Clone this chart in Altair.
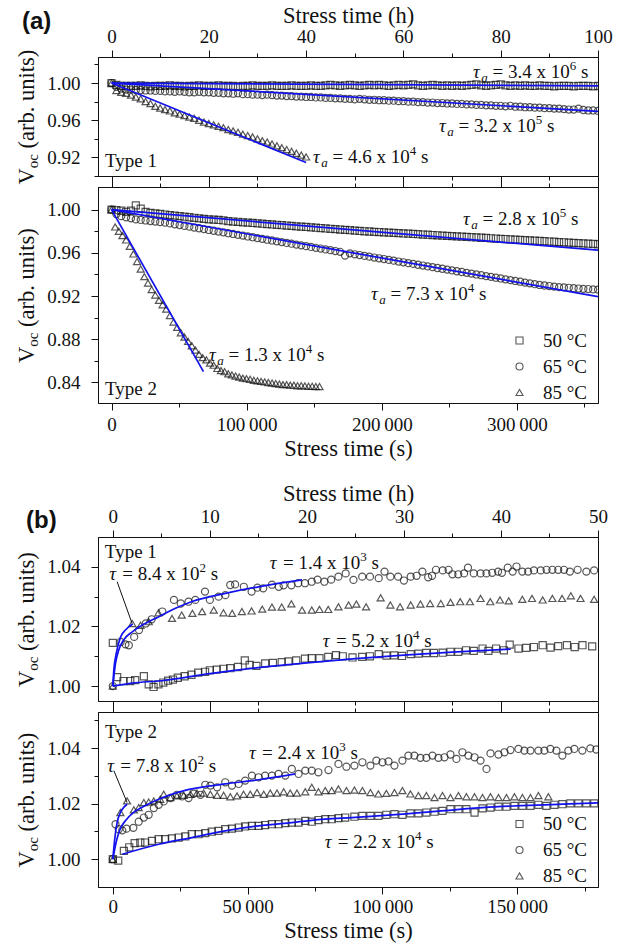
import altair as alt
import pandas as pd

SERIF = "Liberation Serif"
SANS = "Liberation Sans"
INK = "#111111"
BLUE = "#1212ee"
TEMPS = ["50 °C", "65 °C", "85 °C"]
SHAPES = ["square", "circle", "triangle-up"]
H = 3600.0  # seconds per hour

# ---------------- (a) Type 1 / Type 2 : hourly readings ----------------
A_HOURS = [0, 1, 2, 3, 4, 5, 6, 7, 8, 9, 10, 11, 12, 13, 14, 15, 16, 17, 18, 19,
           20, 21, 22, 23, 24, 25, 26, 27, 28, 29, 30, 31, 32, 33, 34, 35, 36, 37, 38, 39,
           40, 41, 42, 43, 44, 45, 46, 47, 48, 49, 50, 51, 52, 53, 54, 55, 56, 57, 58, 59,
           60, 61, 62, 63, 64, 65, 66, 67, 68, 69, 70, 71, 72, 73, 74, 75, 76, 77, 78, 79,
           80, 81, 82, 83, 84, 85, 86, 87, 88, 89, 90, 91, 92, 93, 94, 95, 96, 97, 98, 99, 100]

A1_SQ = [1.000, 0.998, 0.997, 0.997, 0.997, 0.997, 0.9975, 0.997, 0.9965, 0.997,
         0.997, 0.997, 0.9975, 0.997, 0.997, 0.9965, 0.997, 0.997, 0.9975, 0.997,
         0.997, 0.997, 0.9975, 0.997, 0.997, 0.997, 0.9965, 0.997, 0.997, 0.9975,
         0.997, 0.997, 0.997, 0.9975, 0.997, 0.997, 0.997, 0.9975, 0.997, 0.997,
         0.997, 0.9975, 0.997, 0.997, 0.9975, 0.998, 0.9975, 0.997, 0.9975, 0.998,
         0.9975, 0.997, 0.9975, 0.998, 0.9975, 0.998, 0.9975, 0.997, 0.9975, 0.998,
         0.9975, 0.998, 0.9985, 0.9975, 0.997, 0.9975, 0.998, 0.9975, 0.997, 0.9975,
         0.997, 0.9975, 0.997, 0.9975, 0.998, 0.9985, 0.9975, 0.997, 0.9975, 0.998,
         0.9985, 0.9975, 0.997, 0.9975, 0.997, 0.9975, 0.997, 0.997, 0.9975, 0.997,
         0.997, 0.9965, 0.997, 0.997, 0.997, 0.9965, 0.997, 0.997, 0.997, 0.9965, 0.997]

A1_CI = [1.000, 0.996, 0.994, 0.993, 0.993, 0.9925, 0.9925, 0.992, 0.992, 0.9915,
         0.9915, 0.991, 0.991, 0.9905, 0.991, 0.9905, 0.990, 0.990, 0.9905, 0.990,
         0.990, 0.9895, 0.9895, 0.989, 0.989, 0.9885, 0.989, 0.988, 0.988, 0.9875,
         0.9875, 0.987, 0.9875, 0.987, 0.9865, 0.9865, 0.986, 0.986, 0.9855, 0.9855,
         0.985, 0.985, 0.9845, 0.9845, 0.984, 0.984, 0.9835, 0.9835, 0.983, 0.983,
         0.9825, 0.983, 0.9825, 0.982, 0.982, 0.9815, 0.9815, 0.981, 0.981, 0.9805,
         0.9805, 0.980, 0.980, 0.9795, 0.9795, 0.979, 0.979, 0.9785, 0.9785, 0.978,
         0.978, 0.9775, 0.9775, 0.977, 0.977, 0.9765, 0.9765, 0.976, 0.976, 0.9755,
         0.9755, 0.975, 0.9755, 0.9745, 0.9745, 0.974, 0.974, 0.9735, 0.9735, 0.973,
         0.973, 0.9725, 0.9725, 0.972, 0.9715, 0.9715, 0.9725, 0.971, 0.9705, 0.9705, 0.970]

A1_TR_HOURS = [0, 1, 2, 3, 4, 5, 6, 7, 8, 9, 10, 11, 12, 13, 14, 15, 16, 17, 18, 19,
               20, 21, 22, 23, 24, 25, 26, 27, 28, 29, 30, 31, 32, 33, 34, 35, 36, 37, 38, 39, 40]
A1_TR = [1.000, 0.992, 0.990, 0.989, 0.987, 0.985, 0.983, 0.980, 0.978, 0.975,
         0.973, 0.9715, 0.970, 0.968, 0.9665, 0.965, 0.9635, 0.962, 0.960, 0.958,
         0.9565, 0.955, 0.9535, 0.952, 0.950, 0.9485, 0.947, 0.945, 0.9435, 0.942,
         0.940, 0.938, 0.9365, 0.9345, 0.9325, 0.9305, 0.9285, 0.9265, 0.9245, 0.9225, 0.9205]

A2_SQ = [1.000, 0.9995, 0.999, 0.998, 0.999, 1.004, 1.001, 0.998, 0.997, 0.9965,
         0.996, 0.9955, 0.995, 0.9945, 0.994, 0.9935, 0.993, 0.9925, 0.992, 0.9915,
         0.991, 0.9908, 0.9905, 0.990, 0.9895, 0.989, 0.9888, 0.9883, 0.988, 0.9877,
         0.9873, 0.987, 0.9866, 0.9863, 0.986, 0.9856, 0.9853, 0.985, 0.9846, 0.9843,
         0.984, 0.9836, 0.9833, 0.983, 0.9826, 0.9823, 0.982, 0.9816, 0.9813, 0.981,
         0.9806, 0.9803, 0.980, 0.9798, 0.9795, 0.9793, 0.979, 0.9788, 0.9785, 0.9783,
         0.978, 0.9778, 0.9775, 0.9773, 0.977, 0.9768, 0.9765, 0.9763, 0.976, 0.9758,
         0.9755, 0.9753, 0.975, 0.9748, 0.9745, 0.9743, 0.974, 0.9738, 0.9735, 0.9733,
         0.973, 0.9728, 0.9725, 0.9723, 0.972, 0.9718, 0.9715, 0.9713, 0.971, 0.9708,
         0.9705, 0.9703, 0.970, 0.9698, 0.9695, 0.9693, 0.969, 0.9688, 0.9685, 0.9683, 0.968]

A2_CI = [1.000, 0.996, 0.994, 0.993, 0.992, 0.991, 0.9905, 0.990, 0.9895, 0.989,
         0.9885, 0.988, 0.9873, 0.9865, 0.9858, 0.985, 0.9843, 0.9835, 0.9828, 0.982,
         0.9812, 0.9805, 0.9797, 0.979, 0.9782, 0.9775, 0.9767, 0.976, 0.9752, 0.9745,
         0.9737, 0.973, 0.9722, 0.9715, 0.9707, 0.970, 0.9692, 0.9685, 0.9677, 0.967,
         0.9662, 0.9655, 0.9647, 0.964, 0.9632, 0.9625, 0.9617, 0.961, 0.9575, 0.9595,
         0.9587, 0.958, 0.9572, 0.9565, 0.9557, 0.955, 0.9543, 0.9535, 0.9528, 0.952,
         0.9513, 0.9505, 0.9498, 0.949, 0.9483, 0.9475, 0.9468, 0.946, 0.9453, 0.9445,
         0.9438, 0.943, 0.9423, 0.9415, 0.9408, 0.940, 0.9393, 0.9385, 0.9378, 0.937,
         0.9363, 0.9355, 0.9348, 0.934, 0.9333, 0.9325, 0.9318, 0.931, 0.9303, 0.9298,
         0.9293, 0.9288, 0.9283, 0.928, 0.9277, 0.9273, 0.927, 0.9267, 0.9265, 0.9262, 0.926]

A2_TR_HOURS = [0, 0.75, 1.5, 2.25, 3.0, 3.75, 4.5, 5.25, 6.0, 6.75, 7.5, 8.25, 9.0, 9.75,
               10.5, 11.25, 12.0, 12.75, 13.5, 14.25, 15.0, 15.75, 16.5, 17.25, 18.0, 18.75,
               19.5, 20.25, 21.0, 21.75, 22.5, 23.25, 24.0, 24.75, 25.5, 26.25, 27.0, 27.75,
               28.5, 29.25, 30.0, 30.75, 31.5, 32.25, 33.0, 33.75, 34.5, 35.25, 36.0, 36.75,
               37.5, 38.25, 39.0, 39.75, 40.5, 41.25, 42.0, 42.75]
A2_TR = [1.000, 0.984, 0.980, 0.976, 0.972, 0.966, 0.959, 0.952, 0.945, 0.938, 0.932, 0.926,
         0.921, 0.916, 0.912, 0.908, 0.902, 0.896, 0.891, 0.886, 0.882, 0.878, 0.874, 0.870,
         0.866, 0.863, 0.861, 0.858, 0.856, 0.853, 0.851, 0.850, 0.848, 0.847, 0.846, 0.845,
         0.844, 0.8435, 0.843, 0.842, 0.8415, 0.841, 0.8405, 0.840, 0.8395, 0.839, 0.8385,
         0.838, 0.838, 0.8375, 0.8375, 0.837, 0.837, 0.8368, 0.8365, 0.8365, 0.8362, 0.8362]

# linear fits (hours, value)
A1_FIT_SQ_H = [0, 100]; A1_FIT_SQ = [1.000, 0.997]
A1_FIT_CI_H = [0, 100]; A1_FIT_CI = [1.000, 0.9695]
A1_FIT_TR_H = [0, 40];  A1_FIT_TR = [1.000, 0.9145]
A2_FIT_SQ_H = [0, 100]; A2_FIT_SQ = [1.000, 0.9625]
A2_FIT_CI_H = [0, 100]; A2_FIT_CI = [1.000, 0.9195]
A2_FIT_TR_H = [0, 18.9]; A2_FIT_TR = [1.000, 0.850]

# ---------------- (b) Type 1 (times in hours) ----------------
B1_SQ_H = [0, 0.45, 1.1, 1.8, 2.3, 3.2, 3.7, 4.2, 4.7, 5.2, 5.7, 6.2, 6.7, 7.4, 8.1, 8.8, 9.5,
           10.0, 10.7, 11.4, 12.1, 12.9, 13.6, 14.1, 14.8, 15.7, 16.5, 17.4, 18.1, 18.9, 19.8,
           20.5, 21.3, 22.2, 23.0, 23.7, 24.7, 25.7, 26.5, 27.4, 28.2, 29.0, 29.8, 30.7, 31.5,
           32.3, 33.1, 34.0, 34.8, 35.6, 36.4, 37.2, 38.1, 38.7, 39.5, 40.3, 40.9, 41.8, 42.6,
           43.4, 44.3, 45.1, 45.9, 46.8, 47.6, 48.4, 49.4]
B1_SQ = [1.0145, 1.003, 1.0017, 1.0017, 1.002, 1.0033, 1.0006, 0.9997, 1.0006, 1.0012, 1.0018,
         1.0022, 1.0028, 1.0033, 1.0038, 1.0045, 1.0048, 1.0053, 1.0055, 1.0058, 1.006, 1.0064,
         1.0086, 1.0071, 1.0068, 1.0076, 1.0078, 1.008, 1.0083, 1.0086, 1.0092, 1.0094, 1.0094,
         1.0098, 1.0104, 1.0100, 1.0096, 1.0098, 1.0100, 1.0107, 1.0102, 1.0103, 1.0101, 1.0107,
         1.0109, 1.0111, 1.0111, 1.0112, 1.0115, 1.0115, 1.012, 1.0118, 1.0126, 1.0118, 1.0126,
         1.012, 1.0139, 1.0126, 1.0128, 1.0131, 1.0137, 1.0129, 1.0134, 1.0137, 1.0131, 1.0137, 1.0133]

B1_CI_H = [0, 0.8, 1.3, 1.65, 2.2, 2.7, 3.4, 4.0, 5.1, 6.3, 7.0, 7.8, 8.5, 9.5, 10.0, 10.9, 11.6,
           12.1, 12.6, 13.5, 14.3, 14.9, 15.5, 16.4, 17.1, 17.6, 18.4, 19.1, 19.8, 20.5, 21.1,
           21.8, 22.5, 23.25, 24.0, 24.8, 25.7, 26.5, 27.4, 28.0, 28.6, 29.4, 30.0, 30.7, 31.3,
           31.9, 32.5, 32.9, 33.3, 34.0, 34.6, 35.0, 35.6, 36.2, 36.6, 37.2, 37.9, 38.5, 39.1,
           39.7, 40.1, 40.7, 41.2, 41.6, 42.2, 42.8, 43.4, 44.1, 44.7, 45.3, 45.9, 46.5, 47.1,
           47.9, 48.8, 49.6]
B1_CI = [1.000, 1.0148, 1.014, 1.0137, 1.0165, 1.0188, 1.021, 1.0224, 1.025, 1.0289, 1.0277,
         1.0283, 1.0289, 1.0317, 1.0289, 1.030, 1.0305, 1.0339, 1.0341, 1.0333, 1.0317, 1.033,
         1.0328, 1.034, 1.0333, 1.0338, 1.0338, 1.0345, 1.0345, 1.035, 1.0357, 1.035, 1.0357,
         1.0367, 1.0378, 1.0356, 1.0367, 1.0367, 1.0362, 1.0384, 1.0367, 1.0367, 1.0354, 1.0367,
         1.037, 1.0384, 1.0365, 1.037, 1.039, 1.0388, 1.039, 1.0375, 1.0375, 1.0378, 1.0397,
         1.0378, 1.0378, 1.0378, 1.038, 1.0384, 1.038, 1.0397, 1.0384, 1.0401, 1.0384, 1.0384,
         1.0388, 1.0388, 1.039, 1.039, 1.039, 1.039, 1.0384, 1.039, 1.0384, 1.0388]

B1_TR_H = [0, 2.0, 2.85, 3.7, 4.7, 6.1, 7.1, 8.2, 9.2, 10.4, 11.4, 12.3, 13.3, 14.3, 15.4, 16.4,
           17.4, 18.4, 19.5, 20.5, 21.3, 22.2, 23.25, 24.3, 25.1, 26.1, 27.6, 28.6, 29.6, 30.7,
           31.7, 32.7, 33.8, 34.8, 35.8, 36.8, 37.9, 38.9, 39.9, 40.8, 42.2, 43.2, 44.3, 45.3,
           46.3, 47.2, 48.2, 49.6]
B1_TR = [1.000, 1.021, 1.0204, 1.0216, 1.0246, 1.0227, 1.0238, 1.0244, 1.025, 1.0255, 1.0246,
         1.0244, 1.025, 1.0252, 1.0258, 1.0265, 1.0265, 1.0276, 1.0255, 1.0255, 1.0257, 1.0257,
         1.0266, 1.0272, 1.0275, 1.0266, 1.0296, 1.0272, 1.0266, 1.0272, 1.0275, 1.0277, 1.0277,
         1.0281, 1.0283, 1.0283, 1.0294, 1.0283, 1.0289, 1.0286, 1.0291, 1.0294, 1.0289, 1.0294,
         1.0294, 1.0303, 1.0294, 1.0291]

B1_FIT_SQ_H = [0, 2, 5, 10, 15, 20, 25, 30, 35, 41]
B1_FIT_SQ = [1.000, 1.001, 1.0018, 1.0042, 1.0062, 1.0078, 1.0092, 1.0104, 1.0114, 1.0124]
B1_FIT_CI_H = [0, 0.27, 0.6, 1.1, 2.0, 3.0, 4.7, 6.4, 8.1, 11.6, 15.0, 19.5]
B1_FIT_CI = [1.000, 1.0075, 1.012, 1.0154, 1.0182, 1.0204, 1.0232, 1.026, 1.0283, 1.0311, 1.0333, 1.0356]
B1_FIT_TR_H = [0, 0.1, 0.35, 0.8, 1.3, 2.05]
B1_FIT_TR = [1.000, 1.0053, 1.0109, 1.0165, 1.0188, 1.0208]

# ---------------- (b) Type 2 (times in seconds) ----------------
B2_SQ_S = [0, 2000, 4100, 6100, 8100, 10200, 12000, 14500, 17000, 19400, 21900, 24400, 26900,
           29300, 31800, 34300, 36700, 39200, 41700, 44200, 46700, 49100, 51600, 54100, 56500,
           59000, 61500, 64000, 66400, 68900, 71400, 73800, 76300, 78800, 81200, 83700, 86200,
           89630, 92590, 95560, 98520, 101480, 104480, 107440, 110410, 113370, 116330, 119330,
           122300, 125260, 128220, 131190, 134190, 137150, 140110, 143070, 146040, 149000,
           151960, 154930, 157890, 160850, 163820, 166780, 169740, 172710, 175670, 178630]
B2_SQ = [1.000, 0.9995, 1.003, 1.0043, 1.0058, 1.006, 1.006, 1.0066, 1.0072, 1.0072, 1.0075,
         1.0078, 1.0082, 1.009, 1.009, 1.0094, 1.0099, 1.0102, 1.0108, 1.011, 1.0114, 1.0118,
         1.012, 1.012, 1.0123, 1.0126, 1.0126, 1.013, 1.0132, 1.0132, 1.0138, 1.0135, 1.0141,
         1.0144, 1.0144, 1.0148, 1.015, 1.0153, 1.0156, 1.0156, 1.0156, 1.016, 1.0162, 1.016,
         1.0165, 1.0165, 1.0168, 1.0171, 1.0174, 1.018, 1.018, 1.018, 1.0168, 1.0183, 1.0186,
         1.0189, 1.0189, 1.0192, 1.0192, 1.0192, 1.0196, 1.0192, 1.0196, 1.0198, 1.0201, 1.0201,
         1.0201, 1.0201]

B2_CI_S = [0, 1000, 2200, 3500, 5100, 7600, 9600, 11500, 13300, 15200, 17000, 18900, 21400,
           23800, 25700, 28100, 30000, 32500, 34300, 36200, 38700, 41700, 44200, 46700, 49100,
           51600, 54100, 56500, 59000, 61500, 64000, 66400, 68900, 71400, 73800, 76260, 80000,
           83700, 86670, 89630, 92590, 95560, 97780, 100040, 102260, 104480, 107440, 109670,
           111890, 114110, 116330, 118590, 120810, 123040, 125260, 127480, 129700, 131930,
           134190, 136410, 138630, 140110, 143070, 145300, 147520, 150480, 152700, 154930,
           157890, 160110, 162330, 164560, 166780, 169000, 171220, 174190, 177150, 179370]
B2_CI = [1.000, 1.0126, 1.0108, 1.0104, 1.011, 1.0113, 1.0135, 1.015, 1.016, 1.0184, 1.0196,
         1.0208, 1.022, 1.0232, 1.0226, 1.022, 1.0236, 1.0232, 1.0268, 1.0265, 1.0259, 1.0277,
         1.0265, 1.0271, 1.0283, 1.0301, 1.0295, 1.0301, 1.0301, 1.0307, 1.0301, 1.0325, 1.0307,
         1.0319, 1.0319, 1.0313, 1.0321, 1.0343, 1.0333, 1.0337, 1.0349, 1.0337, 1.0355, 1.0349,
         1.0352, 1.0337, 1.0355, 1.0373, 1.0373, 1.0365, 1.0365, 1.0373, 1.0365, 1.0367, 1.0377,
         1.0361, 1.0385, 1.0373, 1.0367, 1.0355, 1.0325, 1.0381, 1.0377, 1.0385, 1.0393, 1.0397,
         1.0391, 1.0391, 1.0391, 1.0391, 1.0397, 1.0391, 1.0373, 1.0391, 1.0397, 1.0391, 1.0399,
         1.0395]

B2_TR_S = [0, 2800, 5300, 7800, 9600, 11500, 13300, 15200, 17600, 18900, 21400, 23800, 26300,
           28800, 31200, 33700, 36200, 38700, 41100, 43600, 46100, 48500, 51000, 53500, 56000,
           58400, 60900, 63400, 65800, 68300, 71400, 73800, 76300, 78800, 81200, 83700, 86670,
           89630, 92590, 95560, 98520, 101480, 104480, 107440, 110410, 113370, 116330, 119330,
           122300, 125260, 128220, 131190, 134190, 137150, 140110, 143070, 146040, 149000,
           151960, 154930, 157890, 161590]
B2_TR = [1.000, 1.0168, 1.021, 1.0178, 1.0186, 1.0204, 1.0206, 1.021, 1.0216, 1.0234, 1.0222,
         1.0228, 1.023, 1.0234, 1.0238, 1.0238, 1.0234, 1.023, 1.023, 1.0225, 1.0228, 1.0234,
         1.0234, 1.024, 1.0234, 1.0238, 1.0238, 1.0243, 1.0238, 1.0238, 1.0243, 1.0259, 1.0243,
         1.0247, 1.0247, 1.0253, 1.0247, 1.0249, 1.0247, 1.024, 1.0235, 1.0237, 1.024, 1.0247,
         1.0235, 1.0229, 1.0229, 1.0222, 1.0229, 1.0222, 1.0229, 1.0225, 1.0225, 1.0222, 1.0225,
         1.0222, 1.0222, 1.0225, 1.0222, 1.0222, 1.0229, 1.0225]

B2_FIT_SQ_S = [3500, 17000, 29300, 41700, 54100, 66400, 78800, 88600, 107440, 137150, 166780, 182000]
B2_FIT_SQ = [1.0018, 1.0054, 1.0078, 1.0102, 1.012, 1.0132, 1.0144, 1.015, 1.0162, 1.0186, 1.0198, 1.0204]
B2_FIT_CI_S = [0, 1500, 2700, 4600, 7600, 10700, 17000, 23200, 29300, 41700, 54100, 67700]
B2_FIT_CI = [1.000, 1.0072, 1.0108, 1.0138, 1.0168, 1.0186, 1.0216, 1.0238, 1.0253, 1.0271, 1.0286, 1.0307]
B2_FIT_TR_S = [0, 700, 1600, 2800, 4000, 5300]
B2_FIT_TR = [1.000, 1.0072, 1.0132, 1.0168, 1.0186, 1.0198]

# ---------------- helpers ----------------
CW = {" ": 0.25, ".": 0.25, "=": 0.564, "x": 0.5, "s": 0.389, "τ": 0.44, "a": 0.5,
      "V": 0.722, "o": 0.5, "c": 0.444, "(": 0.333, ")": 0.333, "r": 0.333, "b": 0.5,
      "u": 0.5, "n": 0.5, "i": 0.278, "t": 0.278}


def fw(s, size):
    return sum(CW.get(ch, 0.5) for ch in s) * size


def series(times, values, temp, unit):
    return pd.DataFrame({"t": [x * unit for x in times], "v": values, "temp": temp})


def fitline(times, values, name, unit):
    return pd.DataFrame({"t": [x * unit for x in times], "v": values, "fit": name})


def tsize(test):
    return {"condition": {"test": test, "value": 7}, "value": 4}


def x_axis(orient, values, test, label_expr=None, title=None, pad=4, tpad=4):
    kw = dict(orient=orient, values=values, grid=False, domainColor=INK, domainWidth=1,
              tickColor=INK, tickWidth=1, tickSize=tsize(test), labelFont=SERIF,
              labelFontSize=19, labelColor=INK, labelPadding=pad, labelFlush=False,
              labelOverlap=False, title=title, titleFont=SERIF, titleFontSize=22.5,
              titleFontWeight="normal", titleColor=INK, titlePadding=tpad)
    if label_expr:
        kw["labelExpr"] = label_expr
    else:
        kw["labels"] = False
    return alt.Axis(**kw)


def y_axis(values, test):
    return alt.Axis(orient="left", values=values, grid=False, domainColor=INK, domainWidth=1,
                    tickColor=INK, tickWidth=1, tickSize=tsize(test), labelFont=SERIF,
                    labelFontSize=19, labelColor=INK, labelPadding=11,
                    labelExpr=f"{test} ? format(datum.value, '.2f') : ''", title=None)


def legend(lx, ly):
    return alt.Legend(orient="none", legendX=lx, legendY=ly, title=None, labelFont=SERIF,
                      labelFontSize=19, labelColor=INK, symbolStrokeColor=INK,
                      symbolFillColor="transparent", symbolSize=50, symbolStrokeWidth=1.1,
                      rowPadding=6, labelOffset=14, padding=0)


def rich(xs, ys, t, v, parts):
    df = pd.DataFrame({"t": [t], "v": [v]})
    out, off = [], 0.0
    for txt, size, style, dy in parts:
        body = txt.lstrip(" ")
        off += fw(txt[: len(txt) - len(body)], size)
        out.append(alt.Chart(df).mark_text(
            text=body, font=SERIF, fontSize=size, fontStyle=style, align="left",
            baseline="alphabetic", dx=off, dy=dy, color=INK).encode(
            x=alt.X("t:Q", scale=xs, axis=None), y=alt.Y("v:Q", scale=ys, axis=None)))
        off += fw(body, size)
    return out


def tau(xs, ys, t, v, sub, mant, exp):
    parts = [("τ", 19, "italic", 0)]
    if sub:
        parts.append(("a", 13, "italic", 4))
    parts += [(f" = {mant} x 10", 19, "normal", 0), (exp, 13, "normal", -8), (" s", 19, "normal", 0)]
    return rich(xs, ys, t, v, parts)


def ytitle(cy):
    parts = [("V", 22.5, 0), ("oc", 15, 4), (" (arb. units)", 22.5, 0)]
    total = sum(fw(p[0], p[1]) for p in parts)
    out, off = [], -total / 2
    dummy = pd.DataFrame({"d": [0]})
    for txt, size, dy in parts:
        body = txt.lstrip(" ")
        off += fw(txt[: len(txt) - len(body)], size)
        out.append(alt.Chart(dummy).mark_text(
            text=body, font=SERIF, fontSize=size, angle=270, align="left",
            baseline="alphabetic", dx=off, dy=dy, color=INK).encode(
            x=alt.value(-64.5), y=alt.value(cy)))
        off += fw(body, size)
    return out


def tag(label, px, py):
    return alt.Chart(pd.DataFrame({"d": [0]})).mark_text(
        text=label, font=SANS, fontSize=24, fontWeight="bold", align="left",
        baseline="alphabetic", color=INK).encode(x=alt.value(px), y=alt.value(py))


def panel(w, h, xdom, ydom, pts, fits, ax_bottom, ax_top, ax_left, leg, extra_fn):
    xs = alt.Scale(domain=xdom, nice=False, zero=False)
    ys = alt.Scale(domain=ydom, nice=False, zero=False)
    layers = [
        alt.Chart(pts).mark_point(filled=False, size=50, strokeWidth=1.2, color=INK, clip=True).encode(
            x=alt.X("t:Q", scale=xs, axis=ax_bottom),
            y=alt.Y("v:Q", scale=ys, axis=ax_left),
            shape=alt.Shape("temp:N", scale=alt.Scale(domain=TEMPS, range=SHAPES), legend=leg)),
        alt.Chart(fits).mark_line(color=BLUE, strokeWidth=1.7, clip=True, interpolate="monotone").encode(
            x=alt.X("t:Q", scale=xs, axis=ax_top),
            y=alt.Y("v:Q", scale=ys, axis=None),
            detail="fit:N"),
    ]
    layers += extra_fn(xs, ys)
    return alt.layer(*layers).resolve_axis(x="independent", y="independent").properties(width=w, height=h)


# ---------------- axes ----------------
HRS_A = [0, 36000, 72000, 108000, 144000, 180000, 216000, 252000, 288000, 324000, 360000]
SEC_A = [0, 50000, 100000, 150000, 200000, 250000, 300000, 350000]
HRS_B = [0, 18000, 36000, 54000, 72000, 90000, 108000, 126000, 144000, 162000, 180000]
SEC_B = [0, 25000, 50000, 75000, 100000, 125000, 150000, 175000]
YA1 = [0.90, 0.92, 0.94, 0.96, 0.98, 1.00, 1.02]
YA2 = [0.84, 0.86, 0.88, 0.90, 0.92, 0.94, 0.96, 0.98, 1.00]
YB1 = [1.00, 1.01, 1.02, 1.03, 1.04]
YB2 = [1.00, 1.01, 1.02, 1.03, 1.04, 1.05]

TA = "datum.value % 72000 == 0"
SA = "datum.value % 100000 == 0"
TB = "datum.value % 36000 == 0"
SB = "datum.value % 50000 == 0"
YTA = "round(datum.value * 100) % 4 == 0"
YTB = "round(datum.value * 100) % 2 == 0"
HOUR_LBL = "{} ? format(datum.value / 3600, 'd') : ''"
SEC_LBL = "{} ? replace(format(datum.value, ','), ',', '\u2009') : ''"

XA = [-10000, 360000]
XB = [-5500, 180000]
W = 500

# ---------------- panels ----------------
a1_pts = pd.concat([series(A_HOURS, A1_SQ, TEMPS[0], H), series(A_HOURS, A1_CI, TEMPS[1], H),
                    series(A1_TR_HOURS, A1_TR, TEMPS[2], H)])
a1_fit = pd.concat([fitline(A1_FIT_SQ_H, A1_FIT_SQ, "s", H), fitline(A1_FIT_CI_H, A1_FIT_CI, "c", H),
                    fitline(A1_FIT_TR_H, A1_FIT_TR, "t", H)])


def a1_extra(xs, ys):
    out = []
    out += tau(xs, ys, 267500, 1.0057, True, "3.4", "6")
    out += tau(xs, ys, 242300, 0.9478, True, "3.2", "5")
    out += tau(xs, ys, 149100, 0.9145, True, "4.6", "4")
    out += rich(xs, ys, -4810, 0.910, [("Type 1", 19, "normal", 0)])
    out += ytitle(59.5)
    out.append(tag("(a)", -76, -28))
    return out


a1 = panel(W, 119, XA, [0.90, 1.028], a1_pts, a1_fit,
           x_axis("bottom", HRS_A, TA),
           x_axis("top", HRS_A, TA, HOUR_LBL.format(TA), "Stress time (h)", pad=4, tpad=0),
           y_axis(YA1, YTA), None, a1_extra)

a2_pts = pd.concat([series(A_HOURS, A2_SQ, TEMPS[0], H), series(A_HOURS, A2_CI, TEMPS[1], H),
                    series(A2_TR_HOURS, A2_TR, TEMPS[2], H)])
a2_fit = pd.concat([fitline(A2_FIT_SQ_H, A2_FIT_SQ, "s", H), fitline(A2_FIT_CI_H, A2_FIT_CI, "c", H),
                    fitline(A2_FIT_TR_H, A2_FIT_TR, "t", H)])


def a2_extra(xs, ys):
    out = []
    out += tau(xs, ys, 260100, 0.9859, True, "2.8", "5")
    out += tau(xs, ys, 192000, 0.9166, True, "7.3", "4")
    out += tau(xs, ys, 72100, 0.860, True, "1.3", "4")
    out += rich(xs, ys, -4810, 0.8283, [("Type 2", 19, "normal", 0)])
    out += ytitle(108)
    return out


a2 = panel(W, 216, XA, [0.821, 1.021], a2_pts, a2_fit,
           x_axis("bottom", SEC_A, SA, SEC_LBL.format(SA), "Stress time (s)", pad=5, tpad=3),
           x_axis("top", HRS_A, TA),
           y_axis(YA2, YTA), legend(412, 144), a2_extra)

spacer = alt.Chart(pd.DataFrame({"d": [0]})).mark_point(opacity=0).encode(
    x=alt.X("d:Q", axis=None), y=alt.Y("d:Q", axis=None)).properties(
    width=W, height=112, view=alt.ViewBackground(strokeOpacity=0))

b1_pts = pd.concat([series(B1_SQ_H, B1_SQ, TEMPS[0], H), series(B1_CI_H, B1_CI, TEMPS[1], H),
                    series(B1_TR_H, B1_TR, TEMPS[2], H)])
b1_fit = pd.concat([fitline(B1_FIT_SQ_H, B1_FIT_SQ, "s", H), fitline(B1_FIT_CI_H, B1_FIT_CI, "c", H),
                    fitline(B1_FIT_TR_H, B1_FIT_TR, "t", H)])


def b1_extra(xs, ys):
    out = []
    out.append(alt.Chart(pd.DataFrame({"t": [1600], "v": [1.035], "t2": [7150], "v2": [1.021]}))
               .mark_rule(color=INK, strokeWidth=1).encode(
        x=alt.X("t:Q", scale=xs, axis=None), y=alt.Y("v:Q", scale=ys, axis=None),
        x2="t2:Q", y2="v2:Q"))
    out += tau(xs, ys, -1370, 1.0356, False, "8.4", "2")
    out += tau(xs, ys, 58260, 1.0393, False, "1.4", "3")
    out += tau(xs, ys, 77900, 1.013, False, "5.2", "4")
    out += rich(xs, ys, -2960, 1.043, [("Type 1", 19, "normal", 0)])
    out += ytitle(82)
    out.append(tag("(b)", -72, -9))
    return out


b1 = panel(W, 164, XB, [0.995, 1.05], b1_pts, b1_fit,
           x_axis("bottom", HRS_B, TB),
           x_axis("top", HRS_B, TB, HOUR_LBL.format(TB), "Stress time (h)", pad=4, tpad=2),
           y_axis(YB1, YTB), None, b1_extra)

b2_pts = pd.concat([series(B2_SQ_S, B2_SQ, TEMPS[0], 1), series(B2_CI_S, B2_CI, TEMPS[1], 1),
                    series(B2_TR_S, B2_TR, TEMPS[2], 1)])
b2_fit = pd.concat([fitline(B2_FIT_SQ_S, B2_FIT_SQ, "s", 1), fitline(B2_FIT_CI_S, B2_FIT_CI, "c", 1),
                    fitline(B2_FIT_TR_S, B2_FIT_TR, "t", 1)])


def b2_extra(xs, ys):
    out = []
    out.append(alt.Chart(pd.DataFrame({"t": [370], "v": [1.0319], "t2": [5300], "v2": [1.0204]}))
               .mark_rule(color=INK, strokeWidth=1).encode(
        x=alt.X("t:Q", scale=xs, axis=None), y=alt.Y("v:Q", scale=ys, axis=None),
        x2="t2:Q", y2="v2:Q"))
    out += tau(xs, ys, -2100, 1.0315, False, "7.8", "2")
    out += tau(xs, ys, 50500, 1.0362, False, "2.4", "3")
    out += tau(xs, ys, 78600, 1.0041, False, "2.2", "4")
    out += rich(xs, ys, -2900, 1.0438, [("Type 2", 19, "normal", 0)])
    out += ytitle(87.5)
    return out


b2 = panel(W, 175, XB, [0.99, 1.053], b2_pts, b2_fit,
           x_axis("bottom", SEC_B, SB, SEC_LBL.format(SB), "Stress time (s)", pad=3, tpad=3),
           x_axis("top", HRS_B, TB),
           y_axis(YB2, YTB), legend(412, 102.5), b2_extra)

chart = alt.vconcat(a1, a2, spacer, b1, b2, spacing=11, bounds="flush").resolve_scale(
    x="independent", y="independent", shape="independent").resolve_legend(
    shape="independent").properties(
    padding={"left": 14, "top": 3, "right": 5, "bottom": 5}, background="white").configure_view(
    stroke=INK, strokeWidth=1)

chart.save("out.html", embed_options={"renderer": "svg", "actions": False})
